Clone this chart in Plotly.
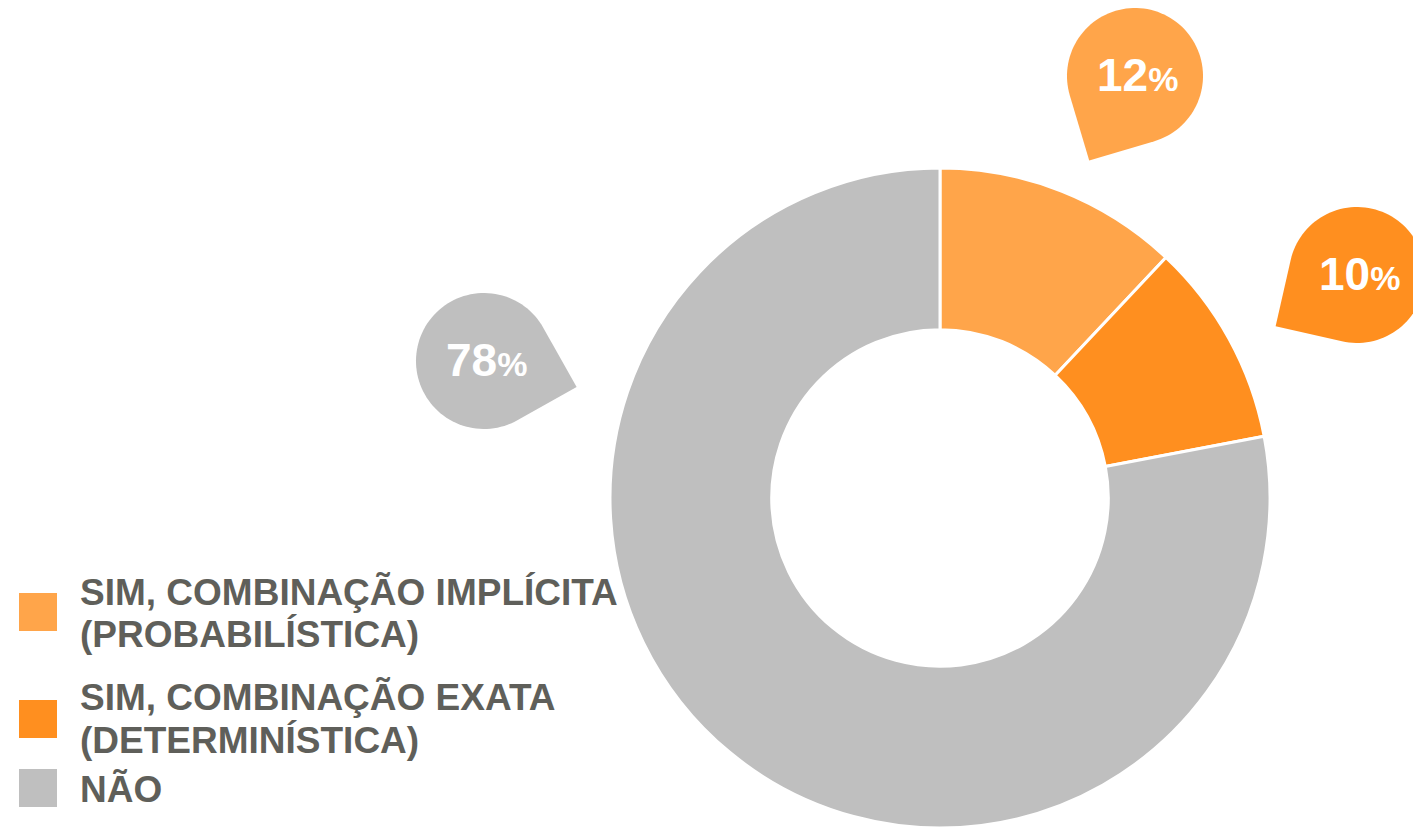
import math
import plotly.graph_objects as go

# ---- data ----
categories = [
    "SIM, COMBINAÇÃO IMPLÍCITA (PROBABILÍSTICA)",
    "SIM, COMBINAÇÃO EXATA (DETERMINÍSTICA)",
    "NÃO",
]
legend_lines = [
    ["SIM, COMBINAÇÃO IMPLÍCITA", "(PROBABILÍSTICA)"],
    ["SIM, COMBINAÇÃO EXATA", "(DETERMINÍSTICA)"],
    ["NÃO"],
]
values = [12, 10, 78]
colors = ["#FFA54A", "#FF8F1F", "#BFBFBF"]

# ---- layout parameters (viewport pixels) ----
OFF = 8  # default page body margin
VW, VH = 1421, 829
W, H = VW - OFF, VH - OFF
CX, CY, R_OUT = 940, 498, 330
HOLE = 0.51
bubble_centers = [(1135, 76), (1357, 275), (484, 361)]
bubble_tips = [(1089, 161), (1276, 326), (577, 387)]
BR = 68
legend_square_centers = [612, 719, 788]
legend_line_centers = [[592, 634], [697, 740], [789]]
TEXT_COLOR = "#5F5F5A"
FONT = "Liberation Sans, Arial, sans-serif"


def px(x):
    return (x - OFF) / W


def py(y):
    return 1 - (y - OFF) / H


fig = go.Figure()
fig.add_trace(go.Pie(
    labels=categories,
    values=values,
    marker=dict(colors=colors, line=dict(color="white", width=3)),
    hole=HOLE,
    sort=False,
    direction="clockwise",
    rotation=0,
    textinfo="none",
    showlegend=False,
    domain=dict(x=[px(CX - R_OUT), px(CX + R_OUT)], y=[py(CY + R_OUT), py(CY - R_OUT)]),
))

shapes = []
annotations = []


def teardrop_path(cx, cy, r, tx, ty):
    dx, dy = tx - cx, ty - cy
    n = math.hypot(dx, dy)
    dx, dy = dx / n, dy / n
    a = math.atan2(dy, dx)
    tip = (cx + r * math.sqrt(2) * dx, cy + r * math.sqrt(2) * dy)
    pts = [tip]
    steps = 90
    for i in range(steps + 1):
        t = a + math.pi / 4 + (3 * math.pi / 2) * i / steps
        pts.append((cx + r * math.cos(t), cy + r * math.sin(t)))
    return "M " + " L ".join(f"{px(x):.5f},{py(y):.5f}" for x, y in pts) + " Z"


for v, c, (bx, by), (tx, ty) in zip(values, colors, bubble_centers, bubble_tips):
    shapes.append(dict(type="path", xref="paper", yref="paper",
                       path=teardrop_path(bx, by, BR, tx, ty),
                       fillcolor=c, line=dict(width=0), layer="above"))
    annotations.append(dict(
        x=px(bx + 2), y=py(by - 1), xref="paper", yref="paper",
        text=f"<b>{v}<span style='font-size:34px'>%</span></b>",
        showarrow=False, xanchor="center", yanchor="middle",
        font=dict(family=FONT, size=46, color="white"),
    ))

# legend
for c, sq, lines, centers in zip(colors, legend_square_centers, legend_lines, legend_line_centers):
    shapes.append(dict(type="rect", xref="paper", yref="paper",
                       x0=px(19), x1=px(57), y0=py(sq + 19), y1=py(sq - 19),
                       fillcolor=c, line=dict(width=0)))
    for line, lc in zip(lines, centers):
        annotations.append(dict(
            x=px(78), y=py(lc), xref="paper", yref="paper",
            text=f"<b>{line}</b>", showarrow=False,
            xanchor="left", yanchor="middle",
            font=dict(family=FONT, size=37, color=TEXT_COLOR),
        ))

fig.update_layout(
    width=W, height=H,
    margin=dict(l=0, r=0, t=0, b=0),
    paper_bgcolor="white", plot_bgcolor="white",
    shapes=shapes, annotations=annotations,
    showlegend=False,
)

fig.write_html("out.html")
